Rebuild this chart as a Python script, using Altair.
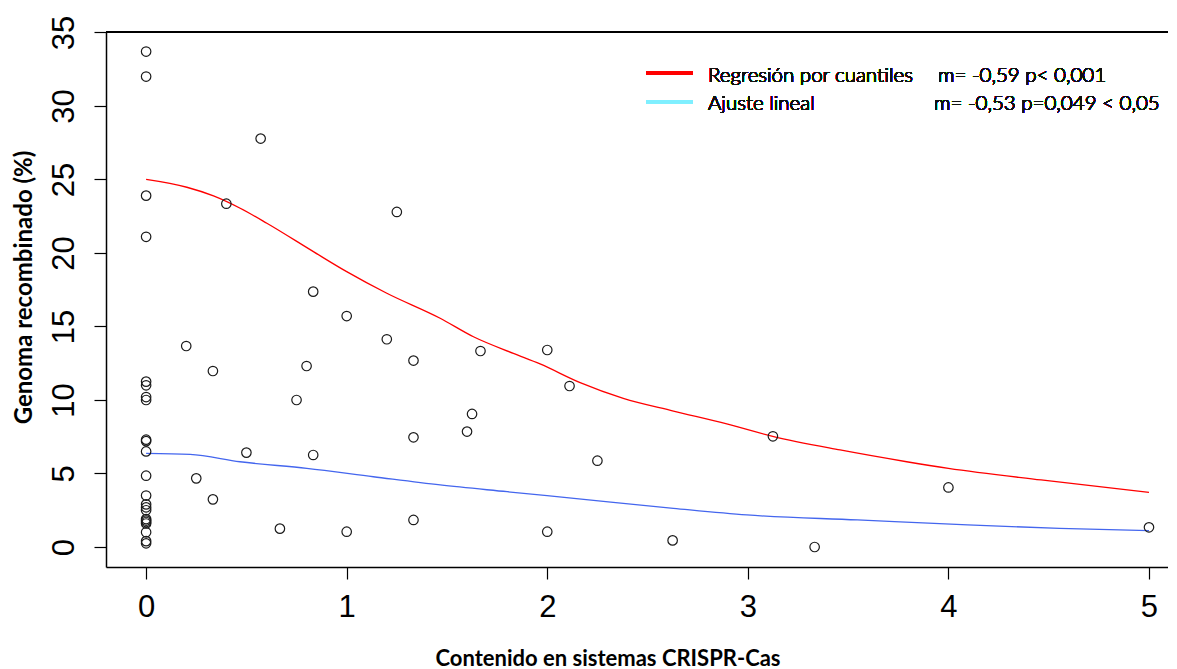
import altair as alt
import pandas as pd

# ---- data ----
contenido_crispr = [
    0, 0, 0, 0, 0, 0, 0, 0, 0, 0, 0, 0, 0, 0, 0, 0, 0, 0, 0, 0, 0, 0, 0,
    0.2, 0.25, 0.333, 0.333, 0.4, 0.5, 0.571, 0.667, 0.75, 0.8, 0.833, 0.833,
    1.0, 1.0, 1.2, 1.25, 1.333, 1.333, 1.333, 1.6, 1.625, 1.667,
    2.0, 2.0, 2.111, 2.25, 2.625, 3.125, 3.333, 4.0, 5.0,
]
genoma_recombinado = [
    33.7, 32.0, 23.9, 21.1, 11.25, 11.0, 10.2, 10.0, 7.3, 7.2, 6.5, 4.85,
    3.5, 2.9, 2.7, 2.5, 1.9, 1.8, 1.7, 1.6, 1.0, 0.4, 0.25,
    13.67, 4.67, 11.97, 3.24, 23.35, 6.42, 27.78, 1.25, 10.0, 12.31, 17.37, 6.26,
    15.71, 1.04, 14.13, 22.79, 12.68, 7.46, 1.84, 7.85, 9.05, 13.33,
    13.4, 1.04, 10.95, 5.87, 0.45, 7.53, 0.0, 4.05, 1.34,
]

cuantil_x = [0.0, 0.203, 0.336, 0.469, 0.602, 0.834, 1.0, 1.2, 1.466,
             1.632, 1.831, 1.964, 2.164, 2.379, 2.629, 2.895, 3.124, 3.46,
             3.792, 4.0, 4.462, 5.0]
cuantil_y = [25.0, 24.47, 23.88, 23.04, 22.02, 20.09, 18.73, 17.26, 15.56,
             14.3, 13.17, 12.45, 11.18, 10.11, 9.25, 8.37, 7.53, 6.6,
             5.8, 5.35, 4.56, 3.72]

lineal_x = [0.0, 0.219, 0.468, 0.801, 1.133, 1.466, 1.8, 2.133, 2.629,
            2.995, 3.546, 4.096, 4.554, 5.0]
lineal_y = [6.37, 6.3, 5.8, 5.35, 4.78, 4.22, 3.76, 3.31, 2.63,
            2.18, 1.84, 1.5, 1.27, 1.11]

x_ticks = [0, 1, 2, 3, 4, 5]
y_ticks = [0, 5, 10, 15, 20, 25, 30, 35]

leyenda_etiquetas = ["Regresión por cuantiles", "Ajuste lineal"]
leyenda_stats = ["m= -0,59 p< 0,001", "m= -0,53 p=0,049 < 0,05"]

titulo_x = "Contenido en sistemas CRISPR-Cas"
titulo_y = "Genoma recombinado (%)"

# ---- layout ----
W, H = 1062, 535
NUM_FONT = "Liberation Sans Narrow, Liberation Sans, Arial"
TXT_FONT = "Lato"

puntos_df = pd.DataFrame({"x": contenido_crispr, "y": genoma_recombinado})
cuantil_df = pd.DataFrame({"x": cuantil_x, "y": cuantil_y})
lineal_df = pd.DataFrame({"x": lineal_x, "y": lineal_y})

xscale = alt.Scale(domain=[-0.2, 5.0948], nice=False, zero=False)
yscale = alt.Scale(domain=[-1.36, 35.03], nice=False, zero=False)

xaxis = alt.Axis(
    values=x_ticks, format="d", grid=False,
    labelFont=NUM_FONT, labelFontSize=31, labelColor="black",
    labelPadding=13, labelFlush=False, labelOverlap=False,
    tickColor="black", tickSize=12, tickWidth=1.2,
    domainColor="black", domainWidth=1.5,
    title=titulo_x, titleFont=TXT_FONT, titleFontWeight="bold",
    titleFontSize=22, titleColor="black",
    titleX=501.5, titleY=98, titleBaseline="alphabetic", titleAlign="center",
)
yaxis = alt.Axis(
    values=y_ticks, format="d", grid=False,
    labelFont=NUM_FONT, labelFontSize=31, labelColor="black",
    labelAngle=270, labelAlign="center", labelBaseline="alphabetic",
    labelPadding=21, labelFlush=False, labelOverlap=False,
    tickColor="black", tickSize=12, tickWidth=1.2,
    domainColor="black", domainWidth=1.5,
    title=titulo_y, titleFont=TXT_FONT, titleFontWeight="bold",
    titleFontSize=24, titleColor="black", titleAngle=270,
    titleX=-75, titleY=255, titleBaseline="alphabetic", titleAlign="center",
)

puntos = alt.Chart(puntos_df).mark_point(
    shape="circle", filled=False, size=90, strokeWidth=1.2,
    color="#1a1a1a", opacity=1,
).encode(
    x=alt.X("x:Q", scale=xscale, axis=xaxis),
    y=alt.Y("y:Q", scale=yscale, axis=yaxis),
)

linea_cuantil = alt.Chart(cuantil_df).mark_line(
    color="#ff0000", strokeWidth=1.3, interpolate="monotone"
).encode(x=alt.X("x:Q", scale=xscale), y=alt.Y("y:Q", scale=yscale))

linea_lineal = alt.Chart(lineal_df).mark_line(
    color="#4466ee", strokeWidth=1.3, interpolate="monotone"
).encode(x=alt.X("x:Q", scale=xscale), y=alt.Y("y:Q", scale=yscale))

borde_sup = alt.Chart(puntos_df).mark_rule(color="black", strokeWidth=1.5).encode(
    x=alt.value(0), x2=alt.value(W), y=alt.value(0)
)

ley_rojo = alt.Chart(puntos_df).mark_rule(color="#ff0000", strokeWidth=3).encode(
    x=alt.value(540), x2=alt.value(587), y=alt.value(41.3)
)
ley_cian = alt.Chart(puntos_df).mark_rule(color="#7fefff", strokeWidth=3).encode(
    x=alt.value(540), x2=alt.value(587), y=alt.value(69.7)
)

def texto(t, x, y):
    return alt.Chart(puntos_df).mark_text(
        text=t, align="left", baseline="alphabetic", font=TXT_FONT,
        fontSize=20.5, fontWeight=300, color="#111111"
    ).encode(x=alt.value(x), y=alt.value(y))

chart = alt.layer(
    borde_sup, linea_cuantil, linea_lineal, puntos,
    ley_rojo, ley_cian,
    texto(leyenda_etiquetas[0], 602, 50.3),
    texto(leyenda_etiquetas[1], 602, 78),
    texto(leyenda_stats[0], 832, 50.3),
    texto(leyenda_stats[1], 828, 78),
).properties(
    width=W, height=H,
    autosize=alt.AutoSizeParams(type="none"),
    padding={"left": 98, "top": 24, "right": 0, "bottom": 102},
    background="white",
).configure_view(stroke=None)

chart.save("out.html", embed_options={"renderer": "svg", "actions": False})
